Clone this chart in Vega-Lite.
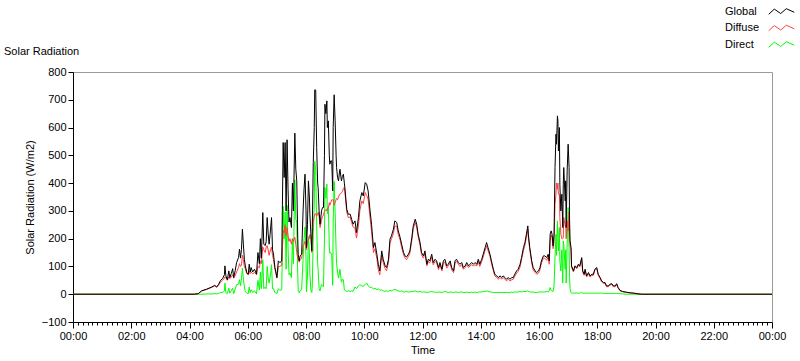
{
"$schema": "https://vega.github.io/schema/vega-lite/v6.json",
"width": 699, "height": 250,
"autosize": {"type": "none"},
"padding": {"left": 73, "top": 72, "right": 28, "bottom": 39},
"background": "white",
"config": {
  "font": "Liberation Sans",
  "view": {"stroke": "#9a9a9a", "strokeWidth": 1},
  "axis": {"labelFont": "Liberation Sans", "labelFontSize": 11, "labelColor": "#000", "titleFont": "Liberation Sans", "titleFontSize": 11, "titleFontWeight": "normal", "titleColor": "#000", "domainColor": "#000", "tickColor": "#000", "grid": false}
},
"title": {"text": "Solar Radiation", "anchor": "start", "frame": "group", "fontSize": 11, "fontWeight": "normal", "font": "Liberation Sans", "color": "#000", "dx": -69, "dy": 80, "offset": 17, "baseline": "alphabetic"},
"data": {"values": [
{"t":0,"global":0,"diffuse":0,"direct":0},
{"t":250,"global":0,"diffuse":0,"direct":0},
{"t":258,"global":2,"diffuse":2,"direct":0},
{"t":265,"global":12,"diffuse":12,"direct":0},
{"t":275,"global":18,"diffuse":17,"direct":1},
{"t":286,"global":26,"diffuse":25,"direct":1},
{"t":292,"global":32,"diffuse":30,"direct":2},
{"t":296,"global":26,"diffuse":25,"direct":1},
{"t":300,"global":36,"diffuse":33,"direct":3},
{"t":304,"global":50,"diffuse":44,"direct":6},
{"t":308,"global":56,"diffuse":50,"direct":6},
{"t":312,"global":70,"diffuse":58,"direct":12},
{"t":313,"global":102,"diffuse":62,"direct":40},
{"t":315,"global":66,"diffuse":60,"direct":6},
{"t":318,"global":52,"diffuse":50,"direct":2},
{"t":321,"global":84,"diffuse":62,"direct":22},
{"t":323,"global":60,"diffuse":56,"direct":4},
{"t":326,"global":74,"diffuse":62,"direct":12},
{"t":329,"global":92,"diffuse":70,"direct":22},
{"t":331,"global":60,"diffuse":58,"direct":2},
{"t":334,"global":84,"diffuse":66,"direct":18},
{"t":337,"global":114,"diffuse":80,"direct":34},
{"t":341,"global":132,"diffuse":96,"direct":36},
{"t":343,"global":162,"diffuse":110,"direct":52},
{"t":345,"global":130,"diffuse":100,"direct":30},
{"t":347,"global":160,"diffuse":105,"direct":55},
{"t":349,"global":234,"diffuse":140,"direct":94},
{"t":351,"global":180,"diffuse":125,"direct":55},
{"t":353,"global":126,"diffuse":100,"direct":26},
{"t":355,"global":102,"diffuse":92,"direct":10},
{"t":358,"global":78,"diffuse":74,"direct":4},
{"t":361,"global":72,"diffuse":70,"direct":2},
{"t":363,"global":108,"diffuse":82,"direct":26},
{"t":365,"global":80,"diffuse":74,"direct":6},
{"t":367,"global":96,"diffuse":80,"direct":16},
{"t":370,"global":80,"diffuse":74,"direct":6},
{"t":374,"global":90,"diffuse":78,"direct":12},
{"t":378,"global":72,"diffuse":70,"direct":2},
{"t":381,"global":150,"diffuse":100,"direct":50},
{"t":384,"global":110,"diffuse":95,"direct":15},
{"t":386,"global":200,"diffuse":120,"direct":80},
{"t":388,"global":130,"diffuse":110,"direct":20},
{"t":391,"global":294,"diffuse":170,"direct":124},
{"t":393,"global":180,"diffuse":160,"direct":20},
{"t":396,"global":175,"diffuse":150,"direct":25},
{"t":398,"global":190,"diffuse":170,"direct":20},
{"t":400,"global":276,"diffuse":175,"direct":100},
{"t":402,"global":220,"diffuse":160,"direct":60},
{"t":404,"global":180,"diffuse":140,"direct":40},
{"t":406,"global":215,"diffuse":155,"direct":60},
{"t":409,"global":276,"diffuse":170,"direct":106},
{"t":411,"global":160,"diffuse":140,"direct":20},
{"t":413,"global":145,"diffuse":125,"direct":20},
{"t":416,"global":96,"diffuse":90,"direct":6},
{"t":418,"global":80,"diffuse":75,"direct":5},
{"t":420,"global":60,"diffuse":58,"direct":2},
{"t":423,"global":120,"diffuse":100,"direct":20},
{"t":426,"global":114,"diffuse":100,"direct":14},
{"t":430,"global":120,"diffuse":104,"direct":16},
{"t":433,"global":546,"diffuse":230,"direct":316},
{"t":435,"global":420,"diffuse":220,"direct":200},
{"t":437,"global":546,"diffuse":250,"direct":296},
{"t":439,"global":300,"diffuse":210,"direct":90},
{"t":441,"global":556,"diffuse":240,"direct":320},
{"t":443,"global":380,"diffuse":210,"direct":170},
{"t":445,"global":260,"diffuse":190,"direct":70},
{"t":447,"global":276,"diffuse":200,"direct":76},
{"t":450,"global":240,"diffuse":180,"direct":60},
{"t":452,"global":400,"diffuse":200,"direct":200},
{"t":454,"global":300,"diffuse":190,"direct":110},
{"t":457,"global":580,"diffuse":205,"direct":412},
{"t":459,"global":450,"diffuse":180,"direct":270},
{"t":461,"global":408,"diffuse":150,"direct":258},
{"t":463,"global":200,"diffuse":130,"direct":70},
{"t":464,"global":144,"diffuse":130,"direct":14},
{"t":466,"global":120,"diffuse":115,"direct":5},
{"t":468,"global":138,"diffuse":125,"direct":13},
{"t":471,"global":144,"diffuse":128,"direct":16},
{"t":474,"global":300,"diffuse":175,"direct":125},
{"t":476,"global":380,"diffuse":180,"direct":200},
{"t":478,"global":432,"diffuse":190,"direct":242},
{"t":480,"global":300,"diffuse":170,"direct":130},
{"t":481,"global":168,"diffuse":160,"direct":8},
{"t":483,"global":250,"diffuse":185,"direct":65},
{"t":485,"global":408,"diffuse":200,"direct":208},
{"t":487,"global":350,"diffuse":200,"direct":150},
{"t":488,"global":288,"diffuse":215,"direct":73},
{"t":490,"global":220,"diffuse":205,"direct":15},
{"t":492,"global":156,"diffuse":150,"direct":6},
{"t":493,"global":240,"diffuse":210,"direct":30},
{"t":495,"global":474,"diffuse":260,"direct":214},
{"t":497,"global":600,"diffuse":280,"direct":320},
{"t":498,"global":736,"diffuse":288,"direct":478},
{"t":500,"global":735,"diffuse":290,"direct":445},
{"t":502,"global":528,"diffuse":280,"direct":248},
{"t":504,"global":400,"diffuse":290,"direct":110},
{"t":505,"global":384,"diffuse":295,"direct":89},
{"t":507,"global":300,"diffuse":280,"direct":20},
{"t":509,"global":252,"diffuse":240,"direct":12},
{"t":512,"global":300,"diffuse":265,"direct":35},
{"t":514,"global":312,"diffuse":280,"direct":32},
{"t":516,"global":312,"diffuse":285,"direct":27},
{"t":518,"global":500,"diffuse":300,"direct":200},
{"t":519,"global":684,"diffuse":300,"direct":384},
{"t":521,"global":650,"diffuse":305,"direct":345},
{"t":523,"global":696,"diffuse":300,"direct":396},
{"t":524,"global":600,"diffuse":310,"direct":290},
{"t":526,"global":624,"diffuse":310,"direct":314},
{"t":528,"global":500,"diffuse":330,"direct":170},
{"t":529,"global":468,"diffuse":320,"direct":148},
{"t":531,"global":480,"diffuse":330,"direct":150},
{"t":533,"global":480,"diffuse":340,"direct":140},
{"t":535,"global":372,"diffuse":340,"direct":32},
{"t":536,"global":600,"diffuse":340,"direct":260},
{"t":538,"global":718,"diffuse":320,"direct":406},
{"t":540,"global":624,"diffuse":330,"direct":294},
{"t":542,"global":500,"diffuse":340,"direct":160},
{"t":543,"global":456,"diffuse":345,"direct":111},
{"t":545,"global":420,"diffuse":340,"direct":80},
{"t":547,"global":408,"diffuse":350,"direct":58},
{"t":549,"global":440,"diffuse":360,"direct":80},
{"t":550,"global":450,"diffuse":360,"direct":90},
{"t":553,"global":408,"diffuse":365,"direct":43},
{"t":555,"global":424,"diffuse":370,"direct":54},
{"t":557,"global":432,"diffuse":380,"direct":52},
{"t":559,"global":400,"diffuse":385,"direct":15},
{"t":560,"global":384,"diffuse":370,"direct":14},
{"t":564,"global":306,"diffuse":296,"direct":10},
{"t":567,"global":288,"diffuse":276,"direct":12},
{"t":571,"global":288,"diffuse":278,"direct":10},
{"t":574,"global":270,"diffuse":258,"direct":12},
{"t":577,"global":252,"diffuse":242,"direct":10},
{"t":581,"global":264,"diffuse":238,"direct":26},
{"t":584,"global":222,"diffuse":202,"direct":20},
{"t":588,"global":276,"diffuse":246,"direct":30},
{"t":591,"global":336,"diffuse":302,"direct":34},
{"t":595,"global":366,"diffuse":336,"direct":30},
{"t":598,"global":354,"diffuse":326,"direct":28},
{"t":602,"global":402,"diffuse":366,"direct":36},
{"t":605,"global":396,"diffuse":356,"direct":40},
{"t":608,"global":372,"diffuse":342,"direct":30},
{"t":612,"global":300,"diffuse":276,"direct":24},
{"t":615,"global":252,"diffuse":226,"direct":26},
{"t":619,"global":168,"diffuse":150,"direct":18},
{"t":622,"global":186,"diffuse":164,"direct":22},
{"t":626,"global":144,"diffuse":128,"direct":16},
{"t":629,"global":108,"diffuse":88,"direct":20},
{"t":632,"global":84,"diffuse":70,"direct":14},
{"t":636,"global":156,"diffuse":140,"direct":16},
{"t":639,"global":126,"diffuse":114,"direct":12},
{"t":643,"global":102,"diffuse":92,"direct":10},
{"t":646,"global":96,"diffuse":84,"direct":12},
{"t":650,"global":126,"diffuse":116,"direct":10},
{"t":653,"global":198,"diffuse":184,"direct":14},
{"t":656,"global":210,"diffuse":198,"direct":12},
{"t":660,"global":234,"diffuse":218,"direct":16},
{"t":663,"global":264,"diffuse":246,"direct":18},
{"t":667,"global":258,"diffuse":244,"direct":14},
{"t":670,"global":228,"diffuse":216,"direct":12},
{"t":674,"global":204,"diffuse":194,"direct":10},
{"t":677,"global":180,"diffuse":168,"direct":12},
{"t":681,"global":150,"diffuse":142,"direct":8},
{"t":684,"global":138,"diffuse":130,"direct":8},
{"t":687,"global":134,"diffuse":124,"direct":10},
{"t":691,"global":144,"diffuse":136,"direct":8},
{"t":694,"global":156,"diffuse":148,"direct":8},
{"t":698,"global":204,"diffuse":194,"direct":10},
{"t":701,"global":246,"diffuse":236,"direct":10},
{"t":705,"global":270,"diffuse":258,"direct":12},
{"t":708,"global":252,"diffuse":242,"direct":10},
{"t":711,"global":216,"diffuse":208,"direct":8},
{"t":715,"global":186,"diffuse":176,"direct":10},
{"t":718,"global":150,"diffuse":142,"direct":8},
{"t":722,"global":138,"diffuse":130,"direct":8},
{"t":725,"global":156,"diffuse":148,"direct":8},
{"t":729,"global":108,"diffuse":102,"direct":6},
{"t":732,"global":126,"diffuse":118,"direct":8},
{"t":735,"global":120,"diffuse":112,"direct":8},
{"t":739,"global":144,"diffuse":134,"direct":10},
{"t":742,"global":114,"diffuse":106,"direct":8},
{"t":746,"global":126,"diffuse":118,"direct":8},
{"t":749,"global":120,"diffuse":114,"direct":6},
{"t":753,"global":96,"diffuse":88,"direct":8},
{"t":756,"global":114,"diffuse":106,"direct":8},
{"t":760,"global":90,"diffuse":84,"direct":6},
{"t":763,"global":120,"diffuse":112,"direct":8},
{"t":766,"global":126,"diffuse":116,"direct":10},
{"t":770,"global":102,"diffuse":94,"direct":8},
{"t":773,"global":108,"diffuse":102,"direct":6},
{"t":777,"global":120,"diffuse":112,"direct":8},
{"t":780,"global":96,"diffuse":88,"direct":8},
{"t":784,"global":84,"diffuse":78,"direct":6},
{"t":787,"global":120,"diffuse":112,"direct":8},
{"t":790,"global":126,"diffuse":118,"direct":8},
{"t":794,"global":114,"diffuse":108,"direct":6},
{"t":797,"global":108,"diffuse":100,"direct":8},
{"t":801,"global":114,"diffuse":106,"direct":8},
{"t":804,"global":96,"diffuse":90,"direct":6},
{"t":808,"global":102,"diffuse":96,"direct":6},
{"t":811,"global":114,"diffuse":106,"direct":8},
{"t":815,"global":102,"diffuse":96,"direct":6},
{"t":818,"global":108,"diffuse":102,"direct":6},
{"t":821,"global":114,"diffuse":106,"direct":8},
{"t":825,"global":108,"diffuse":102,"direct":6},
{"t":828,"global":114,"diffuse":106,"direct":8},
{"t":832,"global":108,"diffuse":102,"direct":6},
{"t":835,"global":126,"diffuse":118,"direct":8},
{"t":838,"global":108,"diffuse":100,"direct":8},
{"t":842,"global":126,"diffuse":118,"direct":8},
{"t":845,"global":144,"diffuse":134,"direct":10},
{"t":849,"global":168,"diffuse":158,"direct":10},
{"t":852,"global":186,"diffuse":174,"direct":12},
{"t":855,"global":168,"diffuse":158,"direct":10},
{"t":859,"global":144,"diffuse":136,"direct":8},
{"t":862,"global":120,"diffuse":112,"direct":8},
{"t":866,"global":90,"diffuse":84,"direct":6},
{"t":869,"global":72,"diffuse":66,"direct":6},
{"t":873,"global":66,"diffuse":60,"direct":6},
{"t":876,"global":60,"diffuse":54,"direct":6},
{"t":880,"global":66,"diffuse":60,"direct":6},
{"t":883,"global":60,"diffuse":54,"direct":6},
{"t":886,"global":66,"diffuse":60,"direct":6},
{"t":890,"global":60,"diffuse":54,"direct":6},
{"t":893,"global":54,"diffuse":48,"direct":6},
{"t":897,"global":60,"diffuse":54,"direct":6},
{"t":900,"global":54,"diffuse":48,"direct":6},
{"t":904,"global":60,"diffuse":52,"direct":8},
{"t":907,"global":60,"diffuse":54,"direct":6},
{"t":910,"global":72,"diffuse":64,"direct":8},
{"t":914,"global":84,"diffuse":76,"direct":8},
{"t":917,"global":90,"diffuse":82,"direct":8},
{"t":921,"global":108,"diffuse":98,"direct":10},
{"t":924,"global":132,"diffuse":124,"direct":8},
{"t":928,"global":168,"diffuse":158,"direct":10},
{"t":931,"global":186,"diffuse":176,"direct":10},
{"t":934,"global":216,"diffuse":206,"direct":10},
{"t":937,"global":246,"diffuse":234,"direct":12},
{"t":938,"global":216,"diffuse":206,"direct":10},
{"t":941,"global":168,"diffuse":160,"direct":8},
{"t":945,"global":120,"diffuse":112,"direct":8},
{"t":948,"global":96,"diffuse":88,"direct":8},
{"t":952,"global":84,"diffuse":78,"direct":6},
{"t":955,"global":78,"diffuse":72,"direct":6},
{"t":959,"global":84,"diffuse":76,"direct":8},
{"t":962,"global":96,"diffuse":88,"direct":8},
{"t":965,"global":120,"diffuse":112,"direct":8},
{"t":969,"global":138,"diffuse":130,"direct":8},
{"t":972,"global":138,"diffuse":130,"direct":8},
{"t":976,"global":132,"diffuse":122,"direct":10},
{"t":979,"global":144,"diffuse":136,"direct":8},
{"t":981,"global":120,"diffuse":108,"direct":12},
{"t":983,"global":216,"diffuse":192,"direct":24},
{"t":985,"global":228,"diffuse":214,"direct":14},
{"t":987,"global":216,"diffuse":206,"direct":10},
{"t":989,"global":174,"diffuse":164,"direct":10},
{"t":991,"global":216,"diffuse":186,"direct":30},
{"t":993,"global":456,"diffuse":324,"direct":132},
{"t":995,"global":576,"diffuse":360,"direct":216},
{"t":996,"global":540,"diffuse":400,"direct":140},
{"t":998,"global":642,"diffuse":378,"direct":264},
{"t":999,"global":624,"diffuse":400,"direct":200},
{"t":1000,"global":516,"diffuse":360,"direct":156},
{"t":1002,"global":600,"diffuse":360,"direct":240},
{"t":1003,"global":396,"diffuse":276,"direct":120},
{"t":1005,"global":300,"diffuse":216,"direct":84},
{"t":1007,"global":360,"diffuse":200,"direct":160},
{"t":1009,"global":240,"diffuse":200,"direct":40},
{"t":1010,"global":396,"diffuse":204,"direct":192},
{"t":1011,"global":456,"diffuse":276,"direct":180},
{"t":1014,"global":336,"diffuse":246,"direct":90},
{"t":1015,"global":408,"diffuse":248,"direct":160},
{"t":1016,"global":240,"diffuse":200,"direct":40},
{"t":1018,"global":444,"diffuse":264,"direct":180},
{"t":1020,"global":540,"diffuse":228,"direct":312},
{"t":1022,"global":456,"diffuse":296,"direct":160},
{"t":1023,"global":264,"diffuse":204,"direct":60},
{"t":1024,"global":192,"diffuse":172,"direct":20},
{"t":1026,"global":168,"diffuse":162,"direct":6},
{"t":1027,"global":102,"diffuse":98,"direct":4},
{"t":1031,"global":84,"diffuse":80,"direct":4},
{"t":1034,"global":102,"diffuse":98,"direct":4},
{"t":1038,"global":96,"diffuse":92,"direct":4},
{"t":1041,"global":108,"diffuse":104,"direct":4},
{"t":1044,"global":102,"diffuse":98,"direct":4},
{"t":1048,"global":132,"diffuse":126,"direct":6},
{"t":1050,"global":84,"diffuse":80,"direct":4},
{"t":1053,"global":72,"diffuse":68,"direct":4},
{"t":1055,"global":90,"diffuse":86,"direct":4},
{"t":1058,"global":66,"diffuse":62,"direct":4},
{"t":1062,"global":78,"diffuse":74,"direct":4},
{"t":1065,"global":66,"diffuse":62,"direct":4},
{"t":1069,"global":72,"diffuse":68,"direct":4},
{"t":1072,"global":72,"diffuse":68,"direct":4},
{"t":1075,"global":90,"diffuse":86,"direct":4},
{"t":1079,"global":96,"diffuse":92,"direct":4},
{"t":1082,"global":72,"diffuse":68,"direct":4},
{"t":1086,"global":60,"diffuse":56,"direct":4},
{"t":1089,"global":48,"diffuse":44,"direct":4},
{"t":1093,"global":42,"diffuse":39,"direct":3},
{"t":1096,"global":42,"diffuse":39,"direct":3},
{"t":1099,"global":30,"diffuse":27,"direct":3},
{"t":1103,"global":30,"diffuse":27,"direct":3},
{"t":1106,"global":36,"diffuse":33,"direct":3},
{"t":1110,"global":38,"diffuse":35,"direct":3},
{"t":1113,"global":30,"diffuse":27,"direct":3},
{"t":1117,"global":30,"diffuse":27,"direct":3},
{"t":1120,"global":38,"diffuse":35,"direct":3},
{"t":1123,"global":24,"diffuse":22,"direct":2},
{"t":1127,"global":14,"diffuse":12,"direct":2},
{"t":1132,"global":10,"diffuse":9,"direct":1},
{"t":1140,"global":7,"diffuse":7,"direct":0},
{"t":1148,"global":5,"diffuse":5,"direct":0},
{"t":1155,"global":4,"diffuse":4,"direct":0},
{"t":1160,"global":2,"diffuse":3,"direct":0},
{"t":1166,"global":1,"diffuse":1,"direct":0},
{"t":1172,"global":0,"diffuse":0,"direct":0},
{"t":1440,"global":0,"diffuse":0,"direct":0}
]},
"encoding": {
  "x": {"field": "t", "type": "quantitative",
    "scale": {"domain": [0, 1440], "nice": false, "zero": false},
    "axis": {"title": "Time", "values": [0,10,20,30,40,50,60,70,80,90,100,110,120,130,140,150,160,170,180,190,200,210,220,230,240,250,260,270,280,290,300,310,320,330,340,350,360,370,380,390,400,410,420,430,440,450,460,470,480,490,500,510,520,530,540,550,560,570,580,590,600,610,620,630,640,650,660,670,680,690,700,710,720,730,740,750,760,770,780,790,800,810,820,830,840,850,860,870,880,890,900,910,920,930,940,950,960,970,980,990,1000,1010,1020,1030,1040,1050,1060,1070,1080,1090,1100,1110,1120,1130,1140,1150,1160,1170,1180,1190,1200,1210,1220,1230,1240,1250,1260,1270,1280,1290,1300,1310,1320,1330,1340,1350,1360,1370,1380,1390,1400,1410,1420,1430,1440],
      "labelExpr": "datum.value % 120 == 0 ? ((floor(datum.value/60) % 24) < 10 ? '0' : '') + (floor(datum.value/60) % 24) + ':00' : ''",
      "labelOverlap": false, "labelFlush": false, "labelPadding": 2, "titlePadding": 3,
      "tickSize": {"condition": {"test": "datum.value % 120 == 0", "value": 6}, "value": 3}}},
  "color": {"datum": "Global", "type": "nominal",
    "scale": {"domain": ["Global", "Diffuse", "Direct"], "range": ["#000000", "#ff4040", "#00ff00"]},
    "legend": {"orient": "none", "legendX": 700, "legendY": -69, "title": null, "padding": 0,
      "symbolType": "M-1.6,0.35L-0.9,-0.3L-0.1,0.25L0.6,-0.35L1.6,0.1", "symbolSize": 256, "symbolStrokeWidth": 1, "symbolFillColor": "transparent",
      "labelOffset": -65, "labelFont": "Liberation Sans", "labelFontSize": 11, "labelColor": "#000", "rowPadding": 2.5}}
},
"layer": [
  {"mark": {"type": "line", "strokeWidth": 1, "clip": true},
   "encoding": {
     "y": {"field": "direct", "type": "quantitative", "scale": {"domain": [-100, 800], "nice": false},
       "axis": {"title": "Solar Radiation (W/m2)", "values": [-100,0,100,200,300,400,500,600,700,800], "tickSize": 5, "labelPadding": 2, "titlePadding": 6}},
     "color": {"datum": "Direct", "type": "nominal"}}},
  {"mark": {"type": "line", "strokeWidth": 1, "clip": true},
   "encoding": {
     "y": {"field": "diffuse", "type": "quantitative",
       "axis": {"title": "Solar Radiation (W/m2)", "values": [-100,0,100,200,300,400,500,600,700,800], "tickSize": 5, "labelPadding": 2, "titlePadding": 6}},
     "color": {"datum": "Diffuse", "type": "nominal"}}},
  {"mark": {"type": "line", "strokeWidth": 1, "clip": true},
   "encoding": {
     "y": {"field": "global", "type": "quantitative",
       "axis": {"title": "Solar Radiation (W/m2)", "values": [-100,0,100,200,300,400,500,600,700,800], "tickSize": 5, "labelPadding": 2, "titlePadding": 6}},
     "color": {"datum": "Global", "type": "nominal"}}}
]
}
